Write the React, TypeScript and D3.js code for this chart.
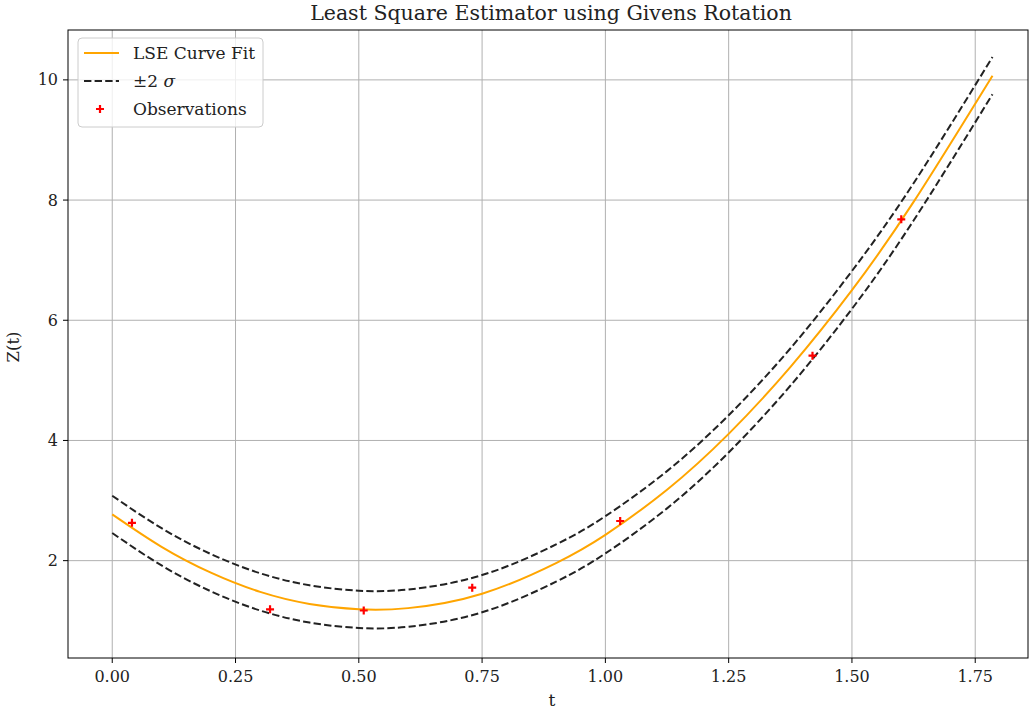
import * as d3 from "d3";

// observations
const obsT = [0.04, 0.32, 0.51, 0.73, 1.03, 1.42, 1.6];
const obsZ = [2.63, 1.19, 1.17, 1.55, 2.66, 5.41, 7.68];

// fitted curve and the ±2σ band
const curveT = [0, 0.1, 0.2, 0.3, 0.4, 0.5, 0.6, 0.75, 0.9, 1.0, 1.125, 1.25, 1.375, 1.5, 1.625, 1.785];
const fitZ = [2.77, 2.23, 1.8, 1.48, 1.28, 1.19, 1.21, 1.45, 1.96, 2.43, 3.18, 4.11, 5.22, 6.5, 7.97, 10.07];
const upperZ = [3.08, 2.54, 2.11, 1.79, 1.59, 1.5, 1.52, 1.76, 2.27, 2.74, 3.49, 4.42, 5.53, 6.82, 8.28, 10.38];
const lowerZ = [2.46, 1.92, 1.49, 1.17, 0.97, 0.88, 0.9, 1.14, 1.65, 2.12, 2.87, 3.8, 4.91, 6.19, 7.66, 9.76];

const xTicks = [0, 0.25, 0.5, 0.75, 1.0, 1.25, 1.5, 1.75];
const yTicks = [2, 4, 6, 8, 10];

const W = 1029, H = 711;
const left = 68, right = 1028, top = 30, bottom = 658;
const font = "'DejaVu Serif', serif";

const App = () => {
  const x = d3.scaleLinear().domain([-0.0897, 1.857]).range([left, right]);
  const y = d3.scaleLinear().domain([0.38, 10.83]).range([bottom, top]);

  const line = (vals: number[]) =>
    d3.line<number>()
      .x((_, i) => x(curveT[i]))
      .y(d => y(d))
      .curve(d3.curveNatural)(vals) || "";

  const plus = (cx: number, cy: number, s = 4) =>
    `M${cx - s},${cy}H${cx + s}M${cx},${cy - s}V${cy + s}`;

  return (
    <svg width={W} height={H} style={{ position: "absolute", left: 0, top: 0, background: "#fff" }}>
      {/* grid */}
      <g stroke="#b0b0b0" strokeWidth={1}>
        {xTicks.map(t => <line key={"gx" + t} x1={x(t)} x2={x(t)} y1={top} y2={bottom} />)}
        {yTicks.map(t => <line key={"gy" + t} x1={left} x2={right} y1={y(t)} y2={y(t)} />)}
      </g>

      <g fill="none">
        <path d={line(upperZ)} stroke="#222" strokeWidth={2} strokeDasharray="7.4,3.2" />
        <path d={line(lowerZ)} stroke="#222" strokeWidth={2} strokeDasharray="7.4,3.2" />
        <path d={line(fitZ)} stroke="orange" strokeWidth={2} />
      </g>

      <g stroke="red" strokeWidth={2.2}>
        {obsT.map((t, i) => <path key={i} d={plus(x(t), y(obsZ[i]))} />)}
      </g>

      {/* spines */}
      <rect x={left} y={top} width={right - left} height={bottom - top} fill="none" stroke="#000" strokeWidth={1} />

      {/* ticks */}
      <g stroke="#000" strokeWidth={1}>
        {xTicks.map(t => <line key={"tx" + t} x1={x(t)} x2={x(t)} y1={bottom} y2={bottom + 5} />)}
        {yTicks.map(t => <line key={"ty" + t} x1={left - 5} x2={left} y1={y(t)} y2={y(t)} />)}
      </g>
      <g fontFamily={font} fontSize={16} fill="#222">
        {xTicks.map(t => (
          <text key={"lx" + t} x={x(t)} y={bottom + 24} textAnchor="middle">{t.toFixed(2)}</text>
        ))}
        {yTicks.map(t => (
          <text key={"ly" + t} x={left - 10} y={y(t)} dy="0.35em" textAnchor="end">{t}</text>
        ))}
      </g>

      <text x={552} y={706} textAnchor="middle" fontFamily={font} fontSize={17} fill="#222">t</text>
      <text transform={`translate(19,347) rotate(-90)`} textAnchor="middle" fontFamily={font} fontSize={16.5} fill="#222">Z(t)</text>
      <text x={551} y={20} textAnchor="middle" fontFamily={font} fontSize={20.5} fill="#222">
        Least Square Estimator using Givens Rotation
      </text>

      {/* legend */}
      <g fontFamily={font} fontSize={17} fill="#222">
        <rect x={78} y={38} width={185} height={89} rx={4} fill="#fff" fillOpacity={0.8} stroke="#ccc" />
        <line x1={84} x2={119} y1={53} y2={53} stroke="orange" strokeWidth={2} />
        <text x={133} y={53} dy="0.35em">LSE Curve Fit</text>
        <line x1={84} x2={119} y1={81} y2={81} stroke="#222" strokeWidth={2} strokeDasharray="7.4,3.2" />
        <text x={133} y={81} dy="0.35em">±2 <tspan fontStyle="italic">σ</tspan></text>
        <path d={plus(100, 109)} stroke="red" strokeWidth={2.2} />
        <text x={133} y={109} dy="0.35em">Observations</text>
      </g>
    </svg>
  );
};

export default App;
